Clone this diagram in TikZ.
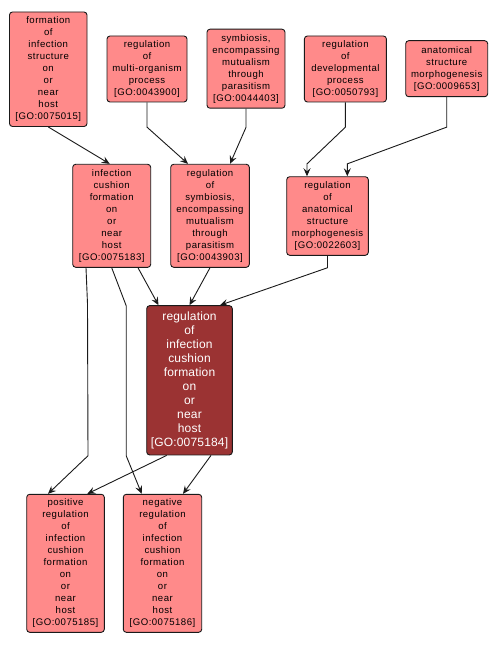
\documentclass[tikz,border=0pt]{standalone}
\usepackage{fontspec}
\setmainfont{Liberation Sans}
\newfontfamily\spacedfont[LetterSpace=5]{Liberation Sans}
\newfontfamily\darkfont[LetterSpace=1.5]{Liberation Sans}
\usetikzlibrary{arrows.meta}
\definecolor{lightnode}{HTML}{FF8A8A}
\definecolor{darknode}{HTML}{9B3333}
\definecolor{edgeline}{HTML}{1A1A1A}
\begin{document}
\begin{tikzpicture}[x=1pt,y=-1pt,
  gobox/.style={draw=edgeline, line width=0.9pt, rounded corners=3pt, fill=lightnode, align=center, inner sep=0pt, font=\spacedfont\fontsize{9.6}{12}\selectfont},
  godark/.style={gobox, fill=darknode, text=white, font=\darkfont\fontsize{12}{14}\selectfont},
  arr/.style={draw=edgeline, line width=0.9pt, -{Stealth[length=8pt,width=7pt,inset=3pt]}}]
\fill[white] (0,0) rectangle (498,647);
\useasboundingbox (0,0) rectangle (498,647);

\node[gobox, minimum width=77.5pt, minimum height=114.5pt] (A) at (48.25,69.25) {formation\\of\\infection\\structure\\on\\or\\near\\host\\{[}GO:0075015{]}};
\node[gobox, minimum width=80pt, minimum height=66pt] (B) at (147,69) {regulation\\of\\multi-organism\\process\\{[}GO:0043900{]}};
\node[gobox, minimum width=78pt, minimum height=79pt] (C) at (246,68.7) {symbiosis,\\encompassing\\mutualism\\through\\parasitism\\{[}GO:0044403{]}};
\node[gobox, minimum width=82pt, minimum height=66pt] (D) at (345.4,69) {regulation\\of\\developmental\\process\\{[}GO:0050793{]}};
\node[gobox, minimum width=82pt, minimum height=56pt] (E) at (446.7,68.7) {anatomical\\structure\\morphogenesis\\{[}GO:0009653{]}};
\node[gobox, minimum width=78pt, minimum height=103pt] (F) at (111.7,215.8) {infection\\cushion\\formation\\on\\or\\near\\host\\{[}GO:0075183{]}};
\node[gobox, minimum width=78.6pt, minimum height=103pt] (G) at (210,215.8) {regulation\\of\\symbiosis,\\encompassing\\mutualism\\through\\parasitism\\{[}GO:0043903{]}};
\node[gobox, minimum width=81.6pt, minimum height=78.6pt] (H) at (327.5,216) {regulation\\of\\anatomical\\structure\\morphogenesis\\{[}GO:0022603{]}};
\node[godark, minimum width=85.6pt, minimum height=149.3pt] (I) at (189.5,380.3) {regulation\\of\\infection\\cushion\\formation\\on\\or\\near\\host\\{[}GO:0075184{]}};
\node[gobox, minimum width=77.6pt, minimum height=138pt] (J) at (65.5,563.3) {positive\\regulation\\of\\infection\\cushion\\formation\\on\\or\\near\\host\\{[}GO:0075185{]}};
\node[gobox, minimum width=78.4pt, minimum height=138pt] (K) at (162.5,563.3) {negative\\regulation\\of\\infection\\cushion\\formation\\on\\or\\near\\host\\{[}GO:0075186{]}};

% edges
\draw[arr] (A.south) -- ([xshift=-2pt]F.north);
\draw[arr] (B.south) -- ++(0,24.7) -- ([xshift=-22pt]G.north);
\draw[arr] (C.south) -- ++(0,18.7) -- ([xshift=20pt]G.north);
\draw[arr] (D.south) -- ++(0,24.7) -- ([xshift=-20.5pt,yshift=12.4pt]H.north) -- ([xshift=-20.5pt]H.north);
\draw[arr] (E.south) -- ++(0,30) -- ([xshift=19.8pt,yshift=12.4pt]H.north) -- ([xshift=19.8pt]H.north);
\draw[arr] (H.south) -- ++(0,12) -- ([xshift=30.5pt]I.north);
\draw[arr] ([xshift=26.3pt]F.south) -- ([xshift=-31pt]I.north);
\draw[arr] (G.south) -- (I.north);
\draw[arr] ([xshift=-25.7pt]F.south) -- ++(1.5,36) -- ++(0.5,152) -- ([xshift=-17.5pt]J.north);
\draw[arr] (F.south) -- ++(14.5,38) -- ++(0,150) -- ([xshift=-20.8pt]K.north);
\draw[arr] ([xshift=-22.8pt]I.south) -- ([xshift=21.8pt]J.north);
\draw[arr] ([xshift=21.5pt]I.south) -- ([xshift=20.5pt]K.north);
\end{tikzpicture}
\end{document}
